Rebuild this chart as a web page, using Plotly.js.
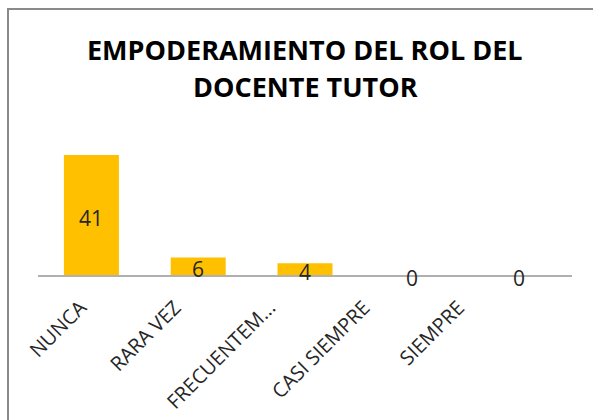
<!DOCTYPE html>
<html>
<head>
<meta charset="utf-8">
<script src="https://cdn.plot.ly/plotly-3.0.1.min.js"></script>
<style>body{margin:0;background:#fff}#chart{width:593px;height:420px}</style>
</head>
<body>
<div id="chart"></div>
<script>
const categories = ["NUNCA", "RARA VEZ", "FRECUENTEM...", "CASI SIEMPRE", "SIEMPRE"];
const values = [41, 6, 4, 0, 0];
const titleLines = ["EMPODERAMIENTO DEL ROL DEL", "DOCENTE TUTOR"];

const FONT = "Open Sans, Noto Sans, sans-serif";

const bars = {
  type: "bar",
  x: categories,
  y: values,
  marker: {color: "#FFC000"},
  hoverinfo: "none"
};
// invisible companion trace that carries the (offset) category labels
const labelCarrier = {
  type: "scatter", mode: "markers",
  x: categories, y: values, xaxis: "x2",
  marker: {opacity: 0}, hoverinfo: "none"
};

const annotations = values.map((v, i) => ({
  x: categories[i], y: v / 2, xref: "x", yref: "y",
  text: String(v), showarrow: false,
  xanchor: "center", yanchor: "middle", yshift: -3,
  font: {family: FONT, size: 21, color: "#262626"}
}));
annotations.push({
  x: 0.5, y: 1.667, xref: "paper", yref: "paper", text: "<b>" + titleLines[0] + "</b>",
  showarrow: false, xanchor: "center", yanchor: "middle",
  font: {family: FONT, size: 27, color: "#000"}
});
annotations.push({
  x: 0.5, y: 1.4, xref: "paper", yref: "paper", text: "<b>" + titleLines[1] + "</b>",
  showarrow: false, xanchor: "center", yanchor: "middle",
  font: {family: FONT, size: 27, color: "#000"}
});

const layout = {
  width: 593, height: 420,
  margin: {l: 38, r: 21, t: 140, b: 145},
  paper_bgcolor: "#fff", plot_bgcolor: "#fff",
  bargap: 0.485,
  showlegend: false,
  xaxis: {
    type: "category", showline: true, linecolor: "#b0b0b0", linewidth: 1.5,
    ticks: "", showticklabels: false, showgrid: false, zeroline: false
  },
  xaxis2: {
    type: "category", overlaying: "x", anchor: "y", side: "bottom",
    range: [-0.45, 5.2],
    showline: false, ticks: "", tickangle: -45, showgrid: false, zeroline: false,
    ticklabelstandoff: 16,
    tickfont: {family: FONT, size: 20, color: "#262626"}
  },
  yaxis: {visible: false, range: [0, 46.1], showgrid: false, zeroline: false},
  annotations: annotations,
  shapes: [{
    type: "rect", xref: "paper", yref: "paper",
    x0: -0.0562, x1: 1.3, y0: -1.5, y1: 1.97,
    line: {color: "#8a8a8a", width: 2}
  }]
};

Plotly.newPlot("chart", [bars, labelCarrier], layout, {displayModeBar: false, staticPlot: true});
</script>
</body>
</html>
